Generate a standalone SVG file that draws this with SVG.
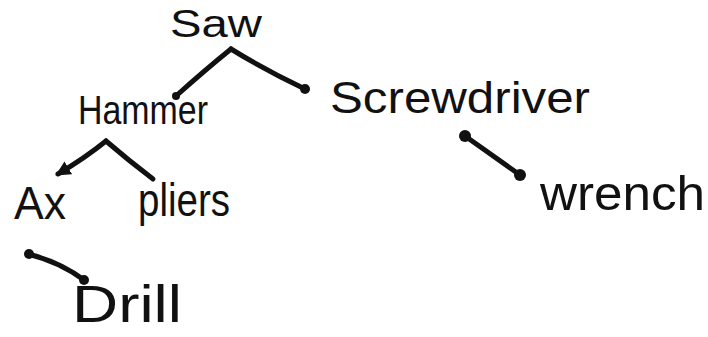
<svg xmlns="http://www.w3.org/2000/svg" width="708" height="337" viewBox="0 0 708 337">
<style>
.t{font-family:"Liberation Sans",Arial,sans-serif;fill:#111;}
.e{stroke:#111;stroke-width:5;fill:none;stroke-linecap:round;stroke-linejoin:round;}
.d{fill:#111;}
</style>
<defs>
<marker id="ah" viewBox="0 0 10 10" refX="8" refY="5" markerWidth="3" markerHeight="3" orient="auto"><path d="M0,0 L10,5 L0,10 z" fill="#111"/></marker>
</defs>
<rect width="708" height="337" fill="#fff"/>
<g id="connectors">
<path class="e" d="M231,49 Q205,70 176,96"/>
<circle class="d" cx="176" cy="96" r="4"/>
<path class="e" d="M231,49 Q265,70 305,89"/>
<circle class="d" cx="305" cy="89" r="5"/>
<path class="e" d="M106,141 Q85,158 58,174" marker-end="url(#ah)"/>
<path class="e" d="M106,141 Q128,160 153,179"/>
<path class="e" d="M28,254 Q60,262 84,280"/>
<circle class="d" cx="29" cy="254" r="5"/>
<circle class="d" cx="84" cy="280" r="5"/>
<path class="e" d="M465,136 L520,175"/>
<circle class="d" cx="465" cy="136" r="6"/>
<circle class="d" cx="520" cy="175" r="6"/>
</g>
<g id="saw"><text class="t" x="170" y="37" font-size="38" textLength="92" lengthAdjust="spacingAndGlyphs">Saw</text></g>
<g id="hammer"><text class="t" x="78" y="124" font-size="40" textLength="130" lengthAdjust="spacingAndGlyphs">Hammer</text></g>
<g id="screwdriver"><text class="t" x="330" y="113" font-size="44" textLength="260" lengthAdjust="spacingAndGlyphs">Screwdriver</text></g>
<g id="ax"><text class="t" x="14" y="219" font-size="46" textLength="52" lengthAdjust="spacingAndGlyphs">Ax</text></g>
<g id="pliers"><text class="t" x="138" y="216" font-size="46" textLength="92" lengthAdjust="spacingAndGlyphs">pliers</text></g>
<g id="wrench"><text class="t" x="540" y="210" font-size="48" textLength="165" lengthAdjust="spacingAndGlyphs">wrench</text></g>
<g id="drill"><text class="t" x="72" y="322" font-size="52" textLength="110" lengthAdjust="spacingAndGlyphs">Drill</text></g>
</svg>
